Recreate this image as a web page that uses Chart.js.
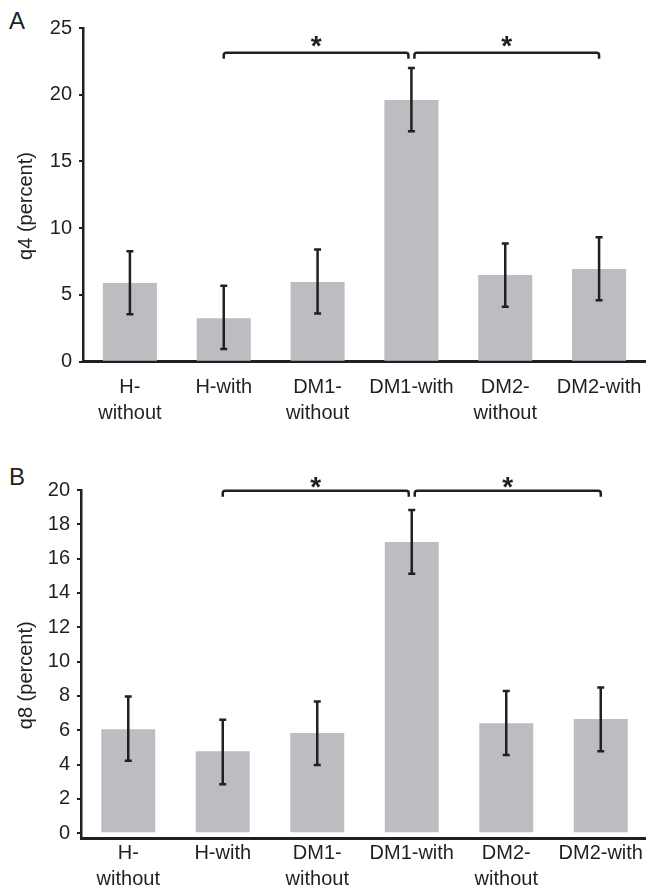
<!DOCTYPE html>
<html>
<head>
<meta charset="utf-8">
<script src="https://cdn.jsdelivr.net/npm/chart.js@4.4.1/dist/chart.umd.min.js"></script>
<style>
body { margin:0; width:646px; height:888px; overflow:hidden; background:#fff; position:relative; font-family:"Liberation Sans", Arial, sans-serif; color:#231F20; }
canvas { position:absolute; left:0; }
#chartA { top:0; }
#chartB { top:440px; }
.panel { position:absolute; left:9px; font-size:24px; line-height:24px; }
</style>
</head>
<body>
<div class="panel" style="top:9px">A</div>
<div class="panel" style="top:465px">B</div>
<canvas id="chartA" width="646" height="440"></canvas>
<canvas id="chartB" width="650" height="448"></canvas>
<script>
const categories = [['H-','without'], 'H-with', ['DM1-','without'], 'DM1-with', ['DM2-','without'], 'DM2-with'];

// panel A: q4
const q4Mean = [5.9, 3.25, 5.97, 19.6, 6.5, 6.95];
const q4Low  = [3.55, 0.95, 3.62, 17.27, 4.12, 4.6];
const q4High = [8.28, 5.69, 8.41, 22.0, 8.86, 9.33];
const q4Ticks = [0, 5, 10, 15, 20, 25];

// panel B: q8
const q8Mean = [6.06, 4.77, 5.83, 16.97, 6.41, 6.65];
const q8Low  = [4.22, 2.85, 3.97, 15.12, 4.55, 4.77];
const q8High = [7.96, 6.61, 7.67, 18.84, 8.29, 8.49];
const q8Ticks = [0, 2, 4, 6, 8, 10, 12, 14, 16, 18, 20];

// significance brackets (bar index from -> to)
const bracketFrom = [1, 3];
const bracketTo = [3, 5];
const bracketMark = ['*', '*'];

const ink = '#231F20';
const barGray = '#BCBDC0';

// error bars + brackets
const extras = {
    id: 'extras',
    afterDatasetsDraw(chart, args, opts) {
        const {ctx, scales: {x, y}} = chart;
        ctx.save();
        ctx.strokeStyle = ink;
        ctx.lineWidth = 2.5;
        opts.low.forEach((lo, i) => {
            const cx = x.getPixelForValue(i);
            const y1 = y.getPixelForValue(lo), y2 = y.getPixelForValue(opts.high[i]);
            ctx.beginPath();
            ctx.moveTo(cx, y1); ctx.lineTo(cx, y2);
            ctx.moveTo(cx - 3.5, y1); ctx.lineTo(cx + 3.5, y1);
            ctx.moveTo(cx - 3.5, y2); ctx.lineTo(cx + 3.5, y2);
            ctx.stroke();
        });

        const by = y.getPixelForValue(opts.bracketAt);
        const sy = y.getPixelForValue(opts.starAt);
        ctx.lineWidth = 2.5;
        ctx.fillStyle = ink;
        ctx.font = 'bold 28px "Liberation Sans"';
        ctx.textAlign = 'center';
        ctx.textBaseline = 'alphabetic';
        bracketFrom.forEach((f, k) => {
            let x1 = x.getPixelForValue(f), x2 = x.getPixelForValue(bracketTo[k]);
            if (k > 0) x1 += 3;
            if (k < bracketFrom.length - 1) x2 -= 3;
            ctx.beginPath();
            ctx.moveTo(x1, by + 6);
            ctx.arcTo(x1, by, x1 + 4, by, 2.5);
            ctx.arcTo(x2, by, x2, by + 6, 2.5);
            ctx.lineTo(x2, by + 6);
            ctx.stroke();
            ctx.fillText(bracketMark[k], (x1 + x2) / 2, sy + 15.5);
        });
        ctx.restore();
    }
};

function makeChart(id, o) {
    new Chart(document.getElementById(id), {
        type: 'bar',
        data: {
            labels: categories,
            datasets: [{ data: o.mean, backgroundColor: barGray, borderWidth: 0, barPercentage: o.barPct, categoryPercentage: 1 }]
        },
        options: {
            responsive: false,
            animation: false,
            layout: { padding: o.padding },
            plugins: {
                legend: { display: false },
                tooltip: { enabled: false },
                extras: { low: o.low, high: o.high, bracketAt: o.bracketAt, starAt: o.starAt }
            },
            scales: {
                x: {
                    grid: { display: false, drawTicks: false },
                    border: { display: true, color: ink, width: 3 },
                    ticks: { color: ink, padding: o.xPad, font: { family: 'Liberation Sans', size: 20, lineHeight: 1.3 }, maxRotation: 0, autoSkip: false },
                    afterFit: s => { s.height = o.xHeight; s.paddingLeft = 0; s.paddingRight = 0; }
                },
                y: {
                    min: o.min, max: o.max,
                    grid: { drawOnChartArea: false, color: ink, lineWidth: 2, tickLength: 4 },
                    border: { display: true, color: ink, width: 2.5 },
                    ticks: { color: ink, padding: 7, font: { family: 'Liberation Sans', size: 20 } },
                    afterBuildTicks: s => { s.ticks = o.ticks.map(v => ({ value: v })); },
                    afterFit: s => { s.width = o.yWidth; },
                    title: { display: true, text: o.title, color: ink, padding: 0, font: { family: 'Liberation Sans', size: 20, lineHeight: 1.2 } }
                }
            }
        },
        plugins: [extras]
    });
}

makeChart('chartA', {
    mean: q4Mean, low: q4Low, high: q4High, ticks: q4Ticks,
    min: 0, max: 25, bracketAt: 23.15, starAt: 24.15,
    title: 'q4 (percent)    ', barPct: 0.576,
    padding: { left: 14, top: 28, right: 0, bottom: 0 },
    yWidth: 69, xHeight: 78.3, xPad: 13
});

makeChart('chartB', {
    mean: q8Mean, low: q8Low, high: q8High, ticks: q8Ticks,
    min: -0.3, max: 20, bracketAt: 19.95, starAt: 20.55,
    title: 'q8 (percent)    ', barPct: 0.571,
    padding: { left: 14, top: 50, right: 2, bottom: 0 },
    yWidth: 67, xHeight: 49.7, xPad: 2
});
</script>
</body>
</html>
